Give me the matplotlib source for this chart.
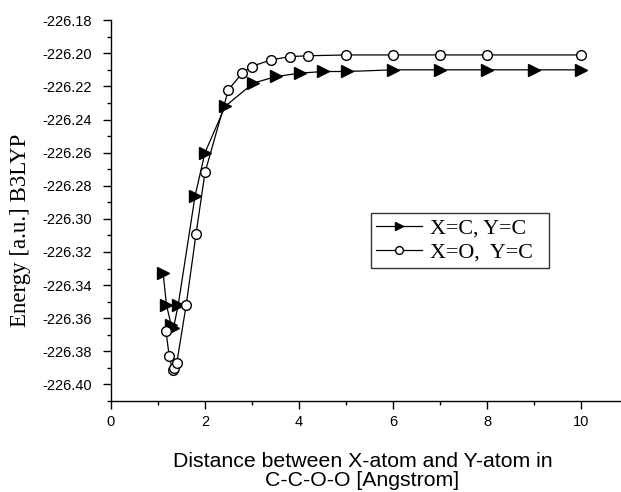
import matplotlib
matplotlib.use('Agg')
import matplotlib.pyplot as plt
from matplotlib.ticker import MultipleLocator, FormatStrFormatter

# X=C, Y=C  (filled triangles)
x_cc = [1.11, 1.18, 1.28, 1.33, 1.43, 1.79, 2.0, 2.43, 3.03, 3.52, 4.02, 4.52, 5.03, 6.0, 7.0, 8.0, 9.0, 10.0]
e_cc = [-226.333, -226.352, -226.364, -226.366, -226.352, -226.286, -226.260, -226.232, -226.218,
        -226.214, -226.212, -226.211, -226.211, -226.210, -226.210, -226.210, -226.210, -226.210]

# X=O, Y=C  (open circles)
x_oc = [1.17, 1.24, 1.31, 1.34, 1.40, 1.60, 1.81, 2.0, 2.50, 2.79, 2.99, 3.40, 3.81, 4.20, 5.01, 6.0, 7.0, 8.0, 10.0]
e_oc = [-226.368, -226.383, -226.391, -226.390, -226.387, -226.352, -226.309, -226.272, -226.222,
        -226.212, -226.208, -226.204, -226.202, -226.2015, -226.201, -226.201, -226.201, -226.201, -226.201]

fig = plt.figure(figsize=(6.21, 4.92), dpi=100)
ax = fig.add_axes([0.1787, 0.185, 0.8213, 0.774])

ax.plot(x_cc, e_cc, color='black', lw=0.9, marker='>', markersize=8,
        markerfacecolor='black', markeredgecolor='black', label='X=C, Y=C  ')
ax.plot(x_oc, e_oc, color='black', lw=0.9, marker='o', markersize=7,
        markerfacecolor='white', markeredgecolor='black', label='X=O,  Y=C  ')

ax.set_xlim(0, 10.85)
ax.set_ylim(-226.41, -226.18)
ax.xaxis.set_major_locator(MultipleLocator(2))
ax.xaxis.set_minor_locator(MultipleLocator(1))
ax.yaxis.set_major_locator(MultipleLocator(0.02))
ax.yaxis.set_minor_locator(MultipleLocator(0.01))
ax.yaxis.set_major_formatter(FormatStrFormatter('%.2f'))

ax.spines['top'].set_visible(False)
ax.spines['right'].set_visible(False)
for s in ['left', 'bottom']:
    ax.spines[s].set_linewidth(1.0)
ax.tick_params(which='major', direction='out', length=6, width=1, labelsize=10.5,
               labelfontfamily='Liberation Sans')
ax.tick_params(axis='y', which='major', pad=8)
ax.tick_params(axis='x', which='major', pad=4)
ax.tick_params(which='minor', direction='out', length=3, width=1)

# axis titles placed in figure coordinates
fig.text(0.5837, 1 - 471 / 492, 'Distance between X-atom and Y-atom in\nC-C-O-O [Angstrom]',
         ha='center', va='center', fontsize=15.3, family='Liberation Sans', linespacing=1.0)
fig.text(21 / 621, 1 - 230 / 492, 'Energy [a.u.] B3LYP', rotation=90,
         ha='center', va='center', fontsize=16.5, family='Liberation Serif')

leg = ax.legend(loc='lower left', bbox_to_anchor=(0.597, 0.455), bbox_transform=fig.transFigure,
                prop={'family': 'Liberation Serif', 'size': 15.8}, frameon=True, fancybox=False,
                handlelength=2.1, handletextpad=0.35, borderpad=0.25, labelspacing=0.15,
                borderaxespad=0, markerscale=0.8)
leg.get_frame().set_edgecolor('black')
leg.get_frame().set_linewidth(1.0)

fig.savefig('out.png', dpi=100)
